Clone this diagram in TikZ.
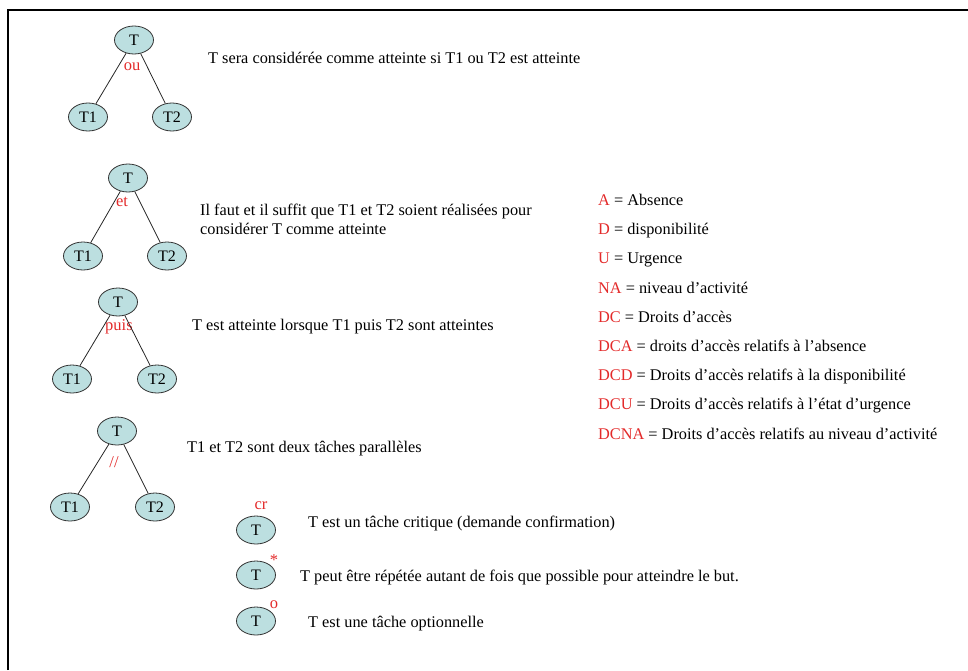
\documentclass[tikz,border=0pt]{standalone}
\usepackage{fontspec}
\setmainfont{Liberation Serif}
\usetikzlibrary{shapes.geometric}
\definecolor{taskfill}{HTML}{BCDFE0}
\definecolor{opred}{HTML}{E32A2A}
\tikzset{
  task/.style={ellipse, draw=black!80, fill=taskfill, line width=0.8pt, minimum width=39pt,
               minimum height=28pt, inner sep=0pt, font=\fontsize{16}{18}\selectfont},
  oplab/.style={anchor=base, text=opred, inner sep=0pt, font=\fontsize{16.5}{18}\selectfont},
  desc/.style={anchor=base west, inner sep=0pt, align=left, font=\fontsize{16.3}{19}\selectfont},
  legkey/.style={anchor=base west, inner sep=0pt, font=\fontsize{16.3}{18}\selectfont},
  link/.style={line width=0.8pt, black!85}
}
\begin{document}
\begin{tikzpicture}[x=1pt, y=-1pt]
  \useasboundingbox (0,0) rectangle (968,670);
  \draw[line width=2pt] (8,670) -- (8,10) -- (968,10);

  % ou
  \node[task] (ouT)  at (134,40)  {T};
  \node[task] (ouT1) at (88,117)  {T1};
  \node[task] (ouT2) at (172,117) {T2};
  \node[oplab] (ouL) at (132,70) {ou};
  \draw[link] (ouT) -- (ouT1); \draw[link] (ouT) -- (ouT2);
  \node[desc] (ouD) at (208,63) {T sera considérée comme atteinte si T1 ou T2 est atteinte};

  % et
  \node[task] (etT)  at (128,178) {T};
  \node[task] (etT1) at (83,256)  {T1};
  \node[task] (etT2) at (167,256) {T2};
  \node[oplab] (etL) at (122,206) {et};
  \draw[link] (etT) -- (etT1); \draw[link] (etT) -- (etT2);
  \node[desc] (etD) at (200,234) {Il faut et il suffit que T1 et T2 soient réalisées pour\\considérer T comme atteinte};

  % puis
  \node[task] (puT)  at (118,302) {T};
  \node[task] (puT1) at (72,379)  {T1};
  \node[task] (puT2) at (157,379) {T2};
  \node[oplab] (puL) at (119,330) {puis};
  \draw[link] (puT) -- (puT1); \draw[link] (puT) -- (puT2);
  \node[desc] (puD) at (192,330) {T est atteinte lorsque T1 puis T2 sont atteintes};

  % parallele
  \node[task] (paT)  at (117,431) {T};
  \node[task] (paT1) at (70,507)  {T1};
  \node[task] (paT2) at (155,507) {T2};
  \node[oplab] (paL) at (114,467) {//};
  \draw[link] (paT) -- (paT1); \draw[link] (paT) -- (paT2);
  \node[desc] (paD) at (187,452) {T1 et T2 sont deux tâches parallèles};

  % marqueurs
  \node[task] (crT) at (256,530) {T};
  \node[oplab] (crL) at (261,509) {cr};
  \node[desc] (crD) at (308,527) {T est un tâche critique (demande confirmation)};
  \node[task] (reT) at (256,575) {T};
  \node[oplab] (reL) at (274,565) {*};
  \node[desc] (reD) at (300,581) {T peut être répétée autant de fois que possible pour atteindre le but.};
  \node[task] (opT) at (256,621) {T};
  \node[oplab] (opL) at (274,608) {o};
  \node[desc] (opD) at (308,627) {T est une tâche optionnelle};

  % legende
  \node[legkey] (lgA)    at (598,205.5) {\textcolor{opred}{A} = Absence};
  \node[legkey] (lgD)    at (598,234.7) {\textcolor{opred}{D} = disponibilité};
  \node[legkey] (lgU)    at (598,263.9) {\textcolor{opred}{U} = Urgence};
  \node[legkey] (lgNA)   at (598,293.1) {\textcolor{opred}{NA} = niveau d’activité};
  \node[legkey] (lgDC)   at (598,322.3) {\textcolor{opred}{DC} = Droits d’accès};
  \node[legkey] (lgDCA)  at (598,351.5) {\textcolor{opred}{DCA} = droits d’accès relatifs à l’absence};
  \node[legkey] (lgDCD)  at (598,380.7) {\textcolor{opred}{DCD} = Droits d’accès relatifs à la disponibilité};
  \node[legkey] (lgDCU)  at (598,409.9) {\textcolor{opred}{DCU} = Droits d’accès relatifs à l’état d’urgence};
  \node[legkey] (lgDCNA) at (598,439.1) {\textcolor{opred}{DCNA} = Droits d’accès relatifs au niveau d’activité};
\end{tikzpicture}
\end{document}
